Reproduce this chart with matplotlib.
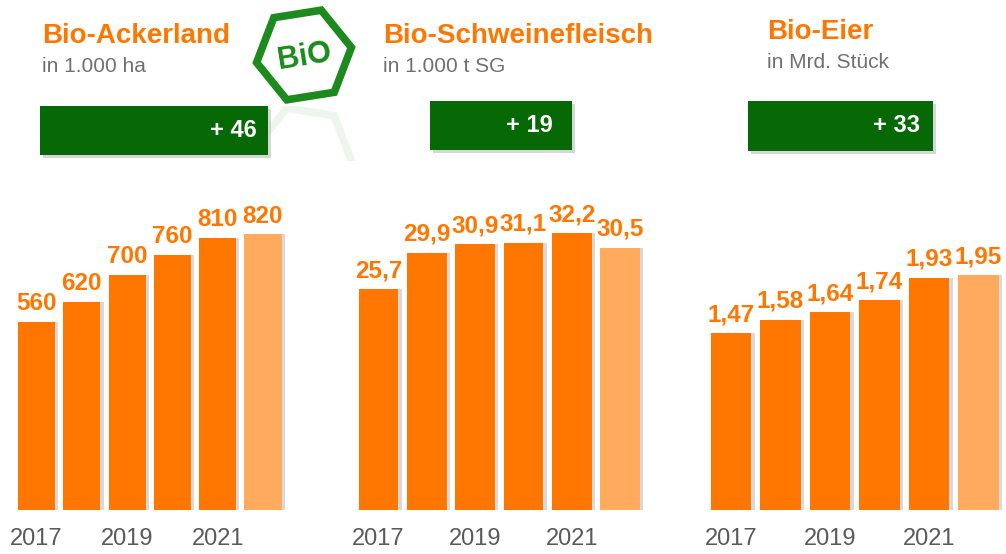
import numpy as np
import matplotlib.pyplot as plt
from matplotlib.patches import Rectangle, RegularPolygon

plt.rcParams['font.family'] = ['Liberation Sans', 'DejaVu Sans']

# data
years = [2017, 2018, 2019, 2020, 2021, 2022]
tick_years = ['2017', '', '2019', '', '2021', '']
ackerland = [560, 620, 700, 760, 810, 820]
schwein = [25.7, 29.9, 30.9, 31.1, 32.2, 30.5]
eier = [1.47, 1.58, 1.64, 1.74, 1.93, 1.95]
titles = ['Bio-Ackerland', 'Bio-Schweinefleisch', 'Bio-Eier']
subtitles = ['in 1.000 ha', 'in 1.000 t SG', 'in Mrd. Stück']
changes = ['+ 46', '+ 19', '+ 33']

ORANGE = '#FF7700'
LIGHT = '#FFAA5C'
GREEN = '#066906'
LOGO = '#1C8A1C'
GREY = '#5a5a5a'

W, H = 1006, 554
fig = plt.figure(figsize=(W / 100, H / 100), dpi=100)

bg = fig.add_axes([0, 0, 1, 1], zorder=0)
bg.set_xlim(0, W)
bg.set_ylim(H, 0)
bg.axis('off')

# panel layout in pixels: (left, right, ylim top, label format, title x, title baseline, box)
panels = [
    (ackerland, 13.9, 285.6, 922.6, '{:.0f}', 42, 43, (40, 106, 228, 49, 257)),
    (schwein, 354.3, 644.2, 36.05, '{:.1f}', 383, 43, (430, 101, 142, 49, 553)),
    (eier, 706.2, 1003.2, 2.574, '{:.2f}', 767, 39, (748, 101, 185, 50, 920)),
]

x = np.arange(len(years))
for i, (vals, left, right, ytop, fmt, tx, ty, box) in enumerate(panels):
    ax = fig.add_axes([left / W, 44 / H, (right - left) / W, 310 / H], zorder=2)
    ax.patch.set_alpha(0)
    cols = [ORANGE] * (len(vals) - 1) + [LIGHT]
    ax.bar(x + 0.07, vals, width=0.82, color='#d9d9d9', zorder=1)
    ax.bar(x, vals, width=0.82, color=cols, zorder=2)
    for xi, v in zip(x, vals):
        ax.annotate(fmt.format(v).replace('.', ','), (xi, v), xytext=(0, 5),
                    textcoords='offset points', ha='center', va='bottom',
                    fontsize=17.5, fontweight='bold', color=ORANGE)
    ax.set_xlim(-0.5, len(vals) - 0.5)
    ax.set_ylim(0, ytop)
    ax.set_xticks(x)
    ax.set_xticklabels(tick_years, fontsize=17, color=GREY)
    ax.tick_params(axis='x', length=0, pad=13)
    ax.set_yticks([])
    for s in ax.spines.values():
        s.set_visible(False)

    # header
    bg.text(tx, ty, titles[i], fontsize=20, fontweight='bold', color=ORANGE, va='baseline')
    bg.text(tx, ty + 29, subtitles[i], fontsize=15, color='#707070', va='baseline')
    bx, by, bw, bh, tr = box
    bg.add_patch(Rectangle((bx + 3, by + 3), bw, bh, color='#bbbbbb', alpha=0.6, lw=0))
    bg.add_patch(Rectangle((bx, by), bw, bh, color=GREEN, lw=0))
    bg.text(tr, by + bh / 2, changes[i], fontsize=17, fontweight='bold', color='white',
            ha='right', va='center')

# BIO logo
hexa = RegularPolygon((304, 55), 6, radius=48, orientation=np.radians(21),
                      fill=False, ec=LOGO, lw=5.5, joinstyle='miter')
bg.add_patch(hexa)
bg.text(304, 57, 'BiO', fontsize=22, fontweight='bold', color=LOGO,
        ha='center', va='center', rotation=9)
# faint reflection
refl = RegularPolygon((304, 153), 6, radius=48, orientation=np.radians(-21),
                      fill=False, ec=LOGO, lw=5.5, alpha=0.08)
bg.add_patch(refl)
clip = Rectangle((270, 106), 110, 55, transform=bg.transData)
refl.set_clip_path(clip)

fig.savefig('out.png', dpi=100)
